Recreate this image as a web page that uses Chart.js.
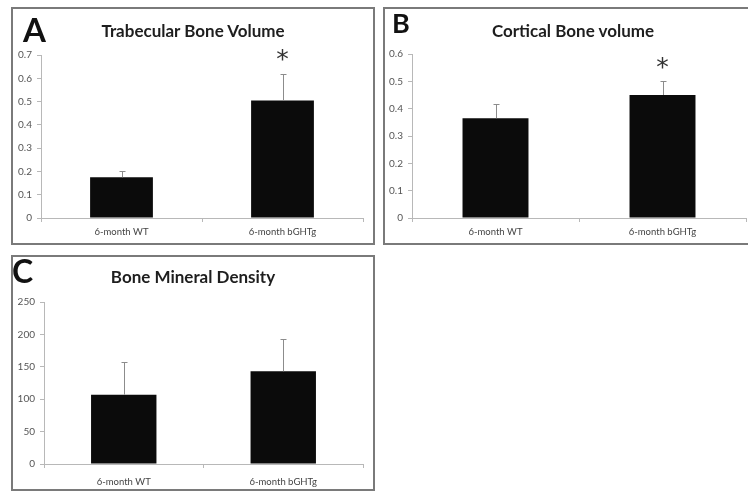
<!DOCTYPE html>
<html>
<head>
<meta charset="utf-8">
<script src="https://cdn.jsdelivr.net/npm/chart.js@4.4.0/dist/chart.umd.min.js"></script>
<style>
  body { margin: 0; width: 748px; height: 492px; background: #fff; overflow: hidden; position: relative; font-family: Lato, sans-serif; }
  .box { position: absolute; box-sizing: border-box; border: 2px solid #7a7a7a; }
  .wrap { position: absolute; }
  .letter { position: absolute; font-weight: bold; color: #111; line-height: 1; }
  .title { position: absolute; text-align: center; font-weight: bold; font-size: 17px; color: #1e1e1e; }
</style>
</head>
<body>
<div class="box" style="left:11px;top:7px;width:364px;height:238px"></div>
<div class="box" style="left:383px;top:7px;width:380px;height:238px"></div>
<div class="box" style="left:11px;top:255px;width:364px;height:236px"></div>

<div class="wrap" style="left:11px;top:7px"><canvas id="chartA" width="364" height="238"></canvas></div>
<div class="wrap" style="left:383px;top:7px"><canvas id="chartB" width="380" height="238"></canvas></div>
<div class="wrap" style="left:11px;top:255px"><canvas id="chartC" width="364" height="236"></canvas></div>

<div class="letter" style="left:23px;top:13px;font-size:33px">A</div>
<div class="title" style="left:11px;width:364px;top:20px">Trabecular Bone Volume</div>
<div class="letter" style="left:392px;top:9px;font-size:27px">B</div>
<div class="title" style="left:383px;width:380px;top:20px">Cortical Bone volume</div>
<div class="letter" style="left:12px;top:255px;font-size:32px">C</div>
<div class="title" style="left:11px;width:364px;top:266px">Bone Mineral Density</div>

<script>
// Data
const categories = ['6-month WT', '6-month bGHTg'];

const trabecular = [0.175, 0.505];
const trabecularErr = [0.027, 0.115];
const trabecularStars = [false, true];

const cortical = [0.365, 0.45];
const corticalErr = [0.053, 0.05];
const corticalStars = [false, true];

const bmd = [107, 143];
const bmdErr = [50, 50];
const bmdStars = [false, false];

// Draws the upper error bar and the significance star over each bar
const errorBars = {
    id: 'errorBars',
    afterDatasetsDraw(chart) {
        const ctx = chart.ctx;
        const y = chart.scales.y;
        const ds = chart.data.datasets[0];
        const meta = chart.getDatasetMeta(0);
        ctx.save();
        meta.data.forEach((bar, i) => {
            const top = y.getPixelForValue(ds.data[i] + ds.errors[i]);
            const x = Math.round(bar.x) + 0.5;
            ctx.strokeStyle = '#8c8c8c';
            ctx.lineWidth = 1;
            ctx.beginPath();
            ctx.moveTo(x, bar.y);
            ctx.lineTo(x, Math.round(top) + 0.5);
            ctx.moveTo(x - 3, Math.round(top) + 0.5);
            ctx.lineTo(x + 3, Math.round(top) + 0.5);
            ctx.stroke();
            if (ds.stars[i]) {
                ctx.fillStyle = '#333';
                ctx.font = '25px "DejaVu Sans"';
                ctx.textAlign = 'center';
                ctx.textBaseline = 'middle';
                ctx.fillText('*', bar.x, top - 13);
            }
        });
        ctx.restore();
    }
};

function makeChart(id, values, errors, stars, yMax, step, decimals, geom) {
    return new Chart(document.getElementById(id), {
        type: 'bar',
        data: {
            labels: categories,
            datasets: [{
                data: values,
                errors: errors,
                stars: stars,
                backgroundColor: '#0b0b0b',
                borderWidth: 0,
                categoryPercentage: 1,
                barPercentage: geom.bar
            }]
        },
        options: {
            responsive: false,
            animation: false,
            layout: { padding: { top: geom.top, right: geom.right, left: 0, bottom: 0 } },
            plugins: { legend: { display: false }, tooltip: { enabled: false } },
            scales: {
                x: {
                    grid: { drawOnChartArea: false, drawTicks: true, tickLength: 4, color: '#b8b8b8' },
                    border: { color: '#b8b8b8' },
                    ticks: { color: '#444', font: { family: 'Lato', size: 9.5 }, padding: geom.xPad, maxRotation: 0 },
                    afterFit: s => { s.height = geom.xH; }
                },
                y: {
                    min: 0,
                    max: yMax,
                    grid: { drawOnChartArea: false, drawTicks: true, tickLength: 4, color: '#b8b8b8' },
                    border: { color: '#b8b8b8' },
                    ticks: {
                        stepSize: step,
                        color: '#555',
                        font: { family: 'Lato', size: 10 },
                        padding: 5,
                        callback: v => v === 0 ? '0' : v.toFixed(decimals)
                    },
                    afterFit: s => { s.width = geom.yW; }
                }
            }
        },
        plugins: [errorBars]
    });
}

makeChart('chartA', trabecular, trabecularErr, trabecularStars, 0.7, 0.1, 1,
    { top: 48, right: 12, yW: 30, xH: 27, xPad: 4, bar: 0.39 });
makeChart('chartB', cortical, corticalErr, corticalStars, 0.6, 0.1, 1,
    { top: 47, right: 17, yW: 29, xH: 27, xPad: 4, bar: 0.395 });
makeChart('chartC', bmd, bmdErr, bmdStars, 250, 50, 0,
    { top: 47, right: 12, yW: 33, xH: 27, xPad: 8, bar: 0.41 });
</script>
</body>
</html>
